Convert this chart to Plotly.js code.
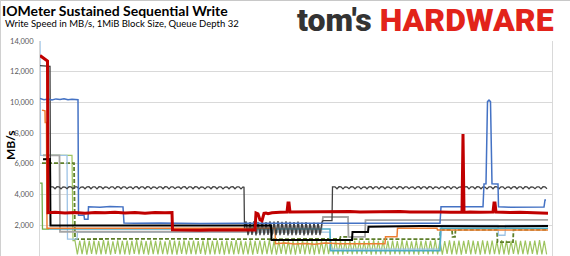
<!DOCTYPE html>
<html>
<head>
<meta charset="utf-8">
<script src="https://cdn.plot.ly/plotly-3.0.1.min.js"></script>
<style>
  html, body { margin: 0; padding: 0; background: #fff; }
  #chart { width: 570px; height: 256px; }
</style>
</head>
<body>
<div id="chart"></div>
<script>
// Time axis in seconds, write speed in MB/s.
// Step-like traces are [time, MB/s] pairs; dense oscillating stretches are
// uniformly sampled runs {t0, dt, v}.

const yTicks = [2000, 4000, 6000, 8000, 10000, 12000, 14000];
const yTickText = ['2,000', '4,000', '6,000', '8,000', '10,000', '12,000', '14,000'];

const redPairs = [
  [0,13050],[3,12900],[6,12800],[7.5,12700],[8,2820],[15,2850],[25,2800],[35,2830],[45,2790],
  [55,2840],[65,2810],[75,2850],[85,2800],[95,2830],[105,2790],[115,2840],[125,2810],[132,2830],
  [132.5,1700],[140,1690],[150,1720],[160,1680],[170,1700],[180,1710],[190,1690],[200,1700],
  [210,1720],[215,1700],[216,2800],[218,2750],[220,2350],[222,2300],[224,2780],[226,2800],
  [228,2760],[232,2820],[240,2850],[247,2860],[248,3450],[249,3450],[250,2860],[260,2870],
  [270,2880],[280,2860],[290,2880],[300,2870],[310,2890],[320,2870],[330,2880],[340,2900],
  [350,2880],[360,2890],[370,2870],[380,2880],[390,2860],[400,2870],[410,2850],[420,2860],
  [422,2860],[423,7950],[424,2860],[426,2850],[430,2870],[440,2850],[450,2860],[453,2860],
  [454,3450],[455,3450],[456,2860],[460,2840],[470,2830],[480,2850],[490,2820],[500,2800],[508,2780]
];

const bluePairs = [
  [0,10250],[4,10180],[8,10220],[12,10160],[16,10230],[20,10190],[24,10240],[28,10170],
  [32,10210],[36,10200],[38,10180],[38.5,2650],[44,2650],[44.5,2400],[48,2400],[48.5,3200],
  [60,3180],[70,3220],[83,3200],[84,2150],[95,2130],[120,2150],[160,2120],[200,2140],
  [240,2150],[280,2130],[320,2150],[360,2140],[400,2130],[401,3200],[415,3210],[430,3190],
  [443,3200],[444,4690],[446,4700],[447.5,10050],[449,10150],[450.5,10050],[452,4700],
  [458,4690],[458.5,3200],[470,3180],[485,3200],[504,3190],[505,3650],[506,3650]
];

const darkGrayStart = [[0,12400],[10,12350],[10.5,4500]];
const darkGrayFlatA = { t0: 11, dt: 2, v: [
  4500,4500,4380,4510,4500,4370,4500,4490,4380,4510,4500,4380,4500,4500,4370,4490,4500,4380,
  4500,4510,4380,4500,4500,4370,4510,4500,4380,4500,4490,4380,4500,4500,4370,4510,4500,4380,
  4500,4500,4380,4490,4500,4370,4500,4510,4380,4500,4500,4380,4510,4500,4370,4500,4490,4380,
  4500,4500,4380,4510,4500,4370,4500,4500,4380,4490,4500,4380,4500,4510,4370,4500,4500,4380,
  4510,4500,4380,4500,4490,4370,4500,4500,4380,4510,4500,4380,4500,4500,4370,4490,4500,4380,
  4500,4510,4380,4500,4500,4370,4500
]};
const darkGrayDrop = [[204,4480],[204.5,1800]];
const darkGrayComb = { t0: 206, dt: 2, v: [
  2250,1350,2200,1380,2280,1340,2230,1360,2260,1350,
  2210,1370,2250,1340,2240,1360,2270,1350,2220,1380,
  2250,1340,2230,1360,2200,1350,2240,1370,2180,1340,
  2200,1360,2150,1350,2180,1370,2150,1360,2200
]};
const darkGrayRise = [[283,2300],[292,2300],[292.5,4500]];
const darkGrayFlatB = { t0: 293, dt: 2, v: [
  4500,4500,4380,4510,4500,4370,4500,4490,4380,4510,4500,4380,4500,4500,4370,4490,4500,4380,
  4500,4510,4380,4500,4500,4370,4510,4500,4380,4500,4490,4380,4500,4500,4370,4510,4500,4380,
  4500,4500,4380,4490,4500,4370,4500,4510,4380,4500,4500,4380,4510,4500,4370,4500,4490,4380,
  4500,4500,4380,4510,4500,4370,4500,4500,4380,4490,4500,4380,4500,4510,4370,4500,4500,4380,
  4510,4500,4380,4500,4490,4370,4500,4500,4380,4510,4500,4380,4500,4500,4370,4490,4500,4380,
  4500,4510,4380,4500,4500,4370,4510,4500,4380,4500,4490,4380,4500,4500,4370,4510,4500,4380
]};

const blackPairs = [
  [3,6300],[10,6320],[10.5,1980],[60,1990],[120,1970],[180,1990],[231,1980],[231.5,1040],
  [270,1050],[312,1040],[312.5,1560],[328,1560],[328.5,1900],[380,1950],[440,1940],[508,1950]
];

const olivePairs = [
  [2,6050],[34,6050],[35,1100],[100,1120],[200,1100],[300,1110],[300.5,1250],[312,1250],
  [312.5,1100],[400,1100],[400.5,1700],[412,1700],[412.5,1250],[415,1250],[415.5,1700],
  [457,1700],[457.5,900],[473,900],[473.5,1700],[508,1700]
];

const tealPairs = [
  [9,1760],[100,1770],[200,1760],[290,1760],[290.5,350],[330,360],[400,350],[400.5,1800],
  [460,1800],[508,1800]
];

const lightBluePairs = [
  [0,14200],[0.6,6550],[27,6550],[27.5,1100],[37,1100],[37.5,1550],[120,1560],[200,1550],
  [290,1550],[290.5,450],[400,450],[402,2000],[458,2000],[458.5,1350],[465,1350],[465.5,2000],[508,2000]
];

const grayStart = [[3,6550],[19.5,6550],[20,1580],[100,1590],[206,1580]];
const grayComb = { t0: 207, dt: 2, v: [
  2050,1480,2000,1500,2080,1470,2030,1490,2060,1480,
  2010,1500,2050,1470,2040,1490,2070,1480,2020,1500,
  2050,1470,2030,1490,2000,1480,2040,1500,1980,1470,
  2000,1490,1950,1480,1980,1500,1950,1490
]};
const grayEnd = [
  [283,2540],[308,2540],[308.5,1240],[325,1240],[325.5,2340],[360,2350],[400,2330],
  [440,2360],[480,2340],[508,2350]
];

const orangePairs = [
  [2,9500],[5,9450],[5.2,8700],[6.5,8700],[7,1800],[100,1800],[235,1800],[235.5,800],
  [245,850],[255,780],[265,820],[275,760],[285,840],[300,800],[320,790],[345,800],
  [345.5,1250],[357,1250],[357.5,1800],[397,1800],[397.5,1700],[508,1700]
];

const greenPairs = [[0,4750],[2,4750],[2.5,1750],[9,1750]];

const limeStart = [[3,6570],[32,6550],[33,1000]];
const limeWave = { t0: 35, dt: 2.37, v: [
  1000,100,980,120,1020,90,990,130,1010,110,
  970,100,1030,120,1000,80,960,140,1020,100,
  990,110,1010,90,980,130,1040,100,1000,120,
  970,95,1020,125,990,105,1010,115,960,100,
  1030,110,1000,90,980,130,1020,100,990,120,
  1010,100,970,140,1000,90,1040,110,980,100,
  1020,120,990,95,1010,125,970,105,1030,115,
  1000,100,960,110,1020,90,990,130,1010,100,
  980,120,1040,100,1000,80,970,140,1020,100,
  990,110,1010,90,980,130,1030,100,1000,120,
  970,95,1020,125,990,105,1010,115,960,100,
  1030,110,1000,90,980,130,1020,100,990,120,
  1010,100,970,140,1000,90,1040,110,980,100,
  1020,120,990,95,1010,125,970,105,1030,115,
  1000,100,960,110,1020,90,990,130,1010,100,
  980,120,1040,100,1000,80,970,140,1020,100,
  990,110,1010,90,980,130,1030,100,1000,120,
  970,95,1020,125,990,105,1010,115,960,100,
  1030,110,1000,90,980,130,1020,100,990,120,
  1010,100,970,140,1000,90,1040,110,980,100
]};

// Join pair lists and sampled runs into one x/y series.
function build(...segments) {
  const x = [], y = [];
  segments.forEach(s => {
    if (Array.isArray(s)) {
      s.forEach(([t, v]) => { x.push(t); y.push(v); });
    } else {
      s.v.forEach((v, i) => { x.push(s.t0 + i * s.dt); y.push(v); });
    }
  });
  return { x, y };
}

function line(data, color, width, dash) {
  return {
    type: 'scatter', mode: 'lines', x: data.x, y: data.y, hoverinfo: 'skip',
    line: { color: color, width: width, dash: dash || 'solid', shape: 'linear' }
  };
}

const traces = [
  line(build(limeStart, limeWave), '#9DC45F', 1.2),
  line(build(olivePairs), '#5E7F2A', 1.8, '4px,2px'),
  line(build(lightBluePairs), '#9DC3E6', 1.3),
  line(build(grayStart, grayComb, grayEnd), '#A5A5A5', 1.8),
  line(build(tealPairs), '#4BACC6', 1.5),
  line(build(greenPairs), '#70AD47', 1.3),
  line(build(orangePairs), '#ED7D31', 1.5),
  line(build(darkGrayStart, darkGrayFlatA, darkGrayDrop, darkGrayComb, darkGrayRise, darkGrayFlatB), '#404040', 1.3),
  line(build(blackPairs), '#000000', 2),
  line(build(bluePairs), '#4472C4', 1.5),
  line(build(redPairs), '#C00000', 3)
];

// Plot area spans x 40..552 px and y 41..256 px of the page.
const px2x = px => (px - 40) / 512;
const py2y = py => (256 - py) / 215;

const layout = {
  width: 570, height: 256,
  margin: { l: 40, r: 18, t: 41, b: 0, pad: 0 },
  paper_bgcolor: '#ffffff', plot_bgcolor: '#ffffff',
  showlegend: false,
  font: { family: 'Lato, "Open Sans", sans-serif', color: '#000' },
  title: {
    text: '<b>IOMeter Sustained Sequential Write</b>',
    font: { family: 'Lato, sans-serif', size: 14, color: '#000' },
    x: 2 / 570, xref: 'container', xanchor: 'left',
    y: 1 - 11 / 256, yref: 'container', yanchor: 'middle',
    pad: { t: 0, l: 0, r: 0, b: 0 }
  },
  xaxis: {
    range: [0, 512], showgrid: false, zeroline: false, showticklabels: false,
    showline: false, ticks: '', fixedrange: true
  },
  yaxis: {
    range: [0, 14000], tickmode: 'array', tickvals: yTicks, ticktext: yTickText,
    gridcolor: '#D9D9D9', gridwidth: 1, showline: true, linecolor: '#D9D9D9', linewidth: 1,
    mirror: true, zeroline: false, ticks: '', ticklabelstandoff: 4,
    tickfont: { family: 'Lato, sans-serif', size: 7.5, color: '#595959' }, fixedrange: true
  },
  annotations: [
    {
      text: 'Write Speed in MB/s, 1MiB Block Size, Queue Depth 32',
      xref: 'paper', yref: 'paper', x: px2x(3), y: py2y(24),
      xanchor: 'left', yanchor: 'middle', showarrow: false,
      font: { family: 'Lato, sans-serif', size: 9.5, color: '#000' }
    },
    {
      text: '<b>MB/s</b>', textangle: -90,
      xref: 'paper', yref: 'paper', x: px2x(10), y: py2y(145),
      xanchor: 'center', yanchor: 'middle', showarrow: false,
      font: { family: 'Lato, sans-serif', size: 12, color: '#000' }
    },
    {
      text: "tom's <span style='color:#E2231A'>HARDWARE</span>",
      xref: 'paper', yref: 'paper', x: px2x(556), y: py2y(20),
      xanchor: 'right', yanchor: 'middle', showarrow: false,
      font: { family: 'Roboto, sans-serif', size: 32, weight: 900, color: '#333333' }
    }
  ],
  shapes: [
    { type: 'line', xref: 'paper', yref: 'paper', x0: px2x(0), x1: px2x(570), y0: py2y(0.5), y1: py2y(0.5),
      line: { color: '#C8C8C8', width: 1 } },
    { type: 'line', xref: 'paper', yref: 'paper', x0: px2x(0.5), x1: px2x(0.5), y0: py2y(0), y1: py2y(256),
      line: { color: '#D0D0D0', width: 1 } }
  ]
};

Plotly.newPlot('chart', traces, layout, { staticPlot: true, displayModeBar: false });
</script>
</body>
</html>
